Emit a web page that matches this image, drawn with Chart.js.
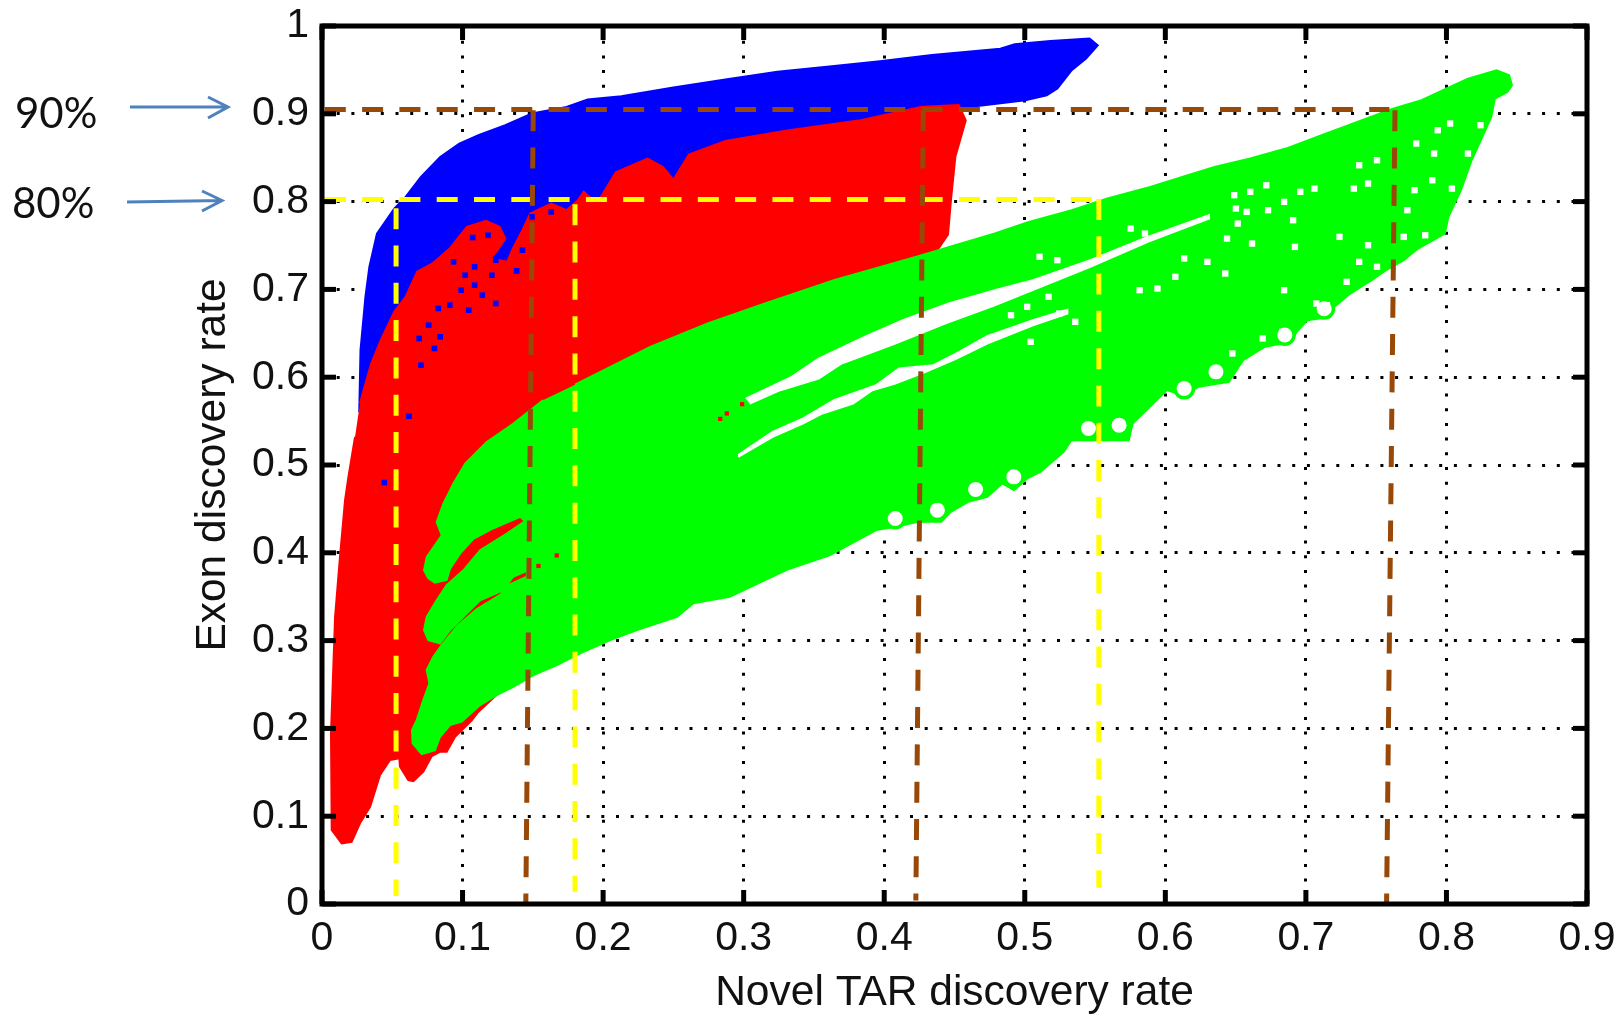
<!DOCTYPE html>
<html>
<head>
<meta charset="utf-8">
<title>Exon vs novel TAR discovery rate</title>
<script src="https://cdn.jsdelivr.net/npm/chart.js@4"></script>
<style>
    html, body { margin: 0; padding: 0; background: #fff; }
    #wrap { position: relative; width: 1624px; height: 1017px; overflow: hidden; }
    canvas { display: block; }
    .pct { position: absolute; font: 42px Lato, sans-serif; color: #111; line-height: 48px; }
    svg { position: absolute; left: 0; top: 0; }
</style>
</head>
<body>
<div id="wrap">
    <canvas id="chart" width="1624" height="1017"></canvas>
    <div class="pct" style="left:15px; top:88px;">90%</div>
    <div class="pct" style="left:12px; top:178px;">80%</div>
    <svg width="320" height="240" fill="none" stroke="#4f81bd" stroke-width="3">
        <path d="M130 107H227M208 97L228 107L208 118"/>
        <path d="M127 202L222 200.500M202 191L222 200.500L202 211"/>
    </svg>
</div>
<script>
const xTicks = [0, 0.1, 0.2, 0.3, 0.4, 0.5, 0.6, 0.7, 0.8, 0.9];
const yTicks = [0, 0.1, 0.2, 0.3, 0.4, 0.5, 0.6, 0.7, 0.8, 0.9, 1];

// outlines, [novel TAR rate, exon rate]
const blueOutline = [
    [.0265,.56],[.0274,.631],[.0309,.6915],[.0337,.7257],[.0391,.7636],[.0514,.7921],[.0595,.8054],
    [.0704,.8282],[.0841,.8509],[.0977,.8661],[.1113,.8756],[.1304,.887],[.1494,.9003],[.174,.9079],
    [.189,.9162],[.213,.92],[.25,.93],[.287,.939],[.324,.948],[.361,.954],[.397,.96],[.434,.967],
    [.4826,.9742],[.4928,.9792],[.5182,.983],[.5461,.9856],[.5519,.978],[.5436,.9629],[.5334,.9496],
    [.5232,.9287],[.5156,.9211],[.5004,.9154],[.456,.907],[.4,.85],[.2,.7],[.05,.55]
];
const redOutline = [
    [.027,.57],[.0296,.5853],[.035,.6156],[.0418,.6422],[.0514,.6745],[.0595,.6915],[.0677,.72],
    [.0786,.7295],[.0909,.7466],[.1031,.7712],[.1167,.7781],[.1263,.7712],[.1304,.758],[.1249,.7447],
    [.1195,.7352],[.1317,.7314],[.1358,.7466],[.1426,.7674],[.1481,.7864],[.1631,.7978],[.174,.7902],
    [.1821,.8016],[.1862,.8111],[.193,.8016],[.198,.804],[.209,.8335],[.2316,.849],[.2426,.8394],
    [.25,.825],[.261,.8536],[.287,.869],[.331,.881],[.383,.8926],[.427,.908],[.453,.91],[.458,.8926],
    [.4506,.851],[.4476,.804],[.4454,.7627],[.438,.745],[.43,.735],[.3,.5],[.1113,.219],[.1067,.2095],
    [.0947,.1905],[.0887,.1734],[.0838,.1734],[.0781,.1685],[.0721,.1507],[.065,.14],[.0614,.1412],
    [.0555,.1564],[.055,.1659],[.0484,.164],[.0413,.1469],[.0342,.1108],[.027,.0919],[.0211,.0709],
    [.014,.0691],[.0069,.0843],[.0064,.1943],[.0093,.3271],[.0128,.3954],[.0164,.46],[.0188,.4865],[.0235,.532]
];
const greenOutline = [
    [.1575,.574],[.136,.547],[.117,.526],[.102,.502],[.0935,.479],[.0864,.456],[.0816,.435],[.0852,.42],
    [.0745,.395],[.0726,.38],[.0757,.371],[.0804,.366],[.0887,.369],[.0911,.382],[.0982,.399],[.1077,.416],
    [.122,.428],[.141,.441],[.1445,.436],[.1315,.422],[.1125,.403],[.1006,.38],[.0887,.363],[.0816,.346],
    [.0745,.327],[.0726,.312],[.0757,.3006],[.084,.297],[.0911,.312],[.1006,.327],[.1125,.346],[.129,.3575],
    [.136,.3727],[.1457,.3795],[.1457,.3727],[.1338,.364],[.1267,.352],[.11,.3355],[.0959,.316],[.0852,.295],
    [.0792,.2816],[.0745,.2665],[.0764,.2513],[.0721,.2323],[.0674,.2095],[.064,.198],[.0645,.183],[.071,.1708],
    [.0804,.1753],[.084,.1905],[.0911,.2038],[.0994,.2076],[.1125,.2266],[.1243,.238],[.136,.2474],[.1504,.2607],
    [.167,.272],[.1836,.2854],[.205,.3006],[.224,.312],[.2525,.327],[.264,.3424],[.29,.35],[.331,.381],[.361,.397],
    [.3942,.4259],[.4078,.4297],[.4242,.4354],[.4405,.4354],[.4473,.4467],[.4596,.4581],[.4732,.4638],[.484,.479],
    [.4923,.4714],[.5018,.4847],[.5113,.4923],[.5277,.515],[.5331,.5283],[.574,.5283],[.5767,.5473],[.6012,.5853],
    [.6121,.5796],[.6236,.5891],[.6452,.5947],[.6553,.6194],[.6706,.6346],[.6896,.6403],[.6934,.6517],[.701,.6649],
    [.7175,.6687],[.7201,.6801],[.7315,.6953],[.7468,.7105],[.757,.7219],[.7696,.7332],[.7798,.7465],[.7988,.7636],
    [.8014,.7826],[.8103,.813],[.8179,.8471],[.8255,.8737],[.8319,.8964],[.8344,.9173],[.8433,.9249],[.8466,.9325],
    [.8446,.9439],[.8357,.9496],[.8153,.9401],[.7976,.9268],[.7823,.9154],[.762,.9059],[.7366,.8908],[.7112,.8756],
    [.6858,.8604],[.6604,.849],[.635,.8395],[.616,.83],[.5893,.8167],[.5588,.8035],[.5334,.7902],[.5029,.7769],
    [.4787,.7636],[.4242,.7378],[.3642,.7105],[.3152,.6839],[.2744,.6612],[.2335,.6346],[.18,.5915]
];
const upperSlit = [
    [.3015,.5757],[.3342,.6004],[.3533,.6213],[.386,.646],[.4132,.665],[.4459,.6839],[.4786,.699],[.5058,.7105],
    [.5466,.7332],[.5875,.7598],[.6311,.7845],[.6311,.7807],[.5875,.7541],[.5466,.7256],[.5113,.7029],[.4786,.682],
    [.4432,.6611],[.4078,.6384],[.3697,.6156],[.3533,.5985],[.326,.5852],[.3043,.57]
];
const lowerSlit = [
    [.2961,.5112],[.3206,.5378],[.3424,.553],[.3642,.5738],[.3942,.5909],[.4105,.6099],[.435,.6137],[.4514,.627],
    [.4732,.6467],[.5058,.665],[.5303,.6771],[.5303,.6725],[.5058,.6592],[.4732,.6384],[.4514,.6213],[.4295,.6061],
    [.4078,.5928],[.3915,.5852],[.3778,.57],[.356,.5587],[.3424,.5473],[.3206,.5321],[.3043,.5169],[.2961,.5093]
];

// small marks left uncovered inside the clouds
const whiteSpecks = [
    [.7379,.8414],[.7506,.8471],[.7341,.8148],[.7442,.8205],[.696,.8111],[.7061,.8148],[.6845,.7997],[.6718,.8186],
    [.6604,.8111],[.649,.8073],[.6502,.7921],[.6579,.7883],[.6731,.7902],[.6909,.7788],[.6515,.775],[.6617,.7522],
    [.6439,.7579],[.6922,.7484],[.6071,.7143],[.6134,.7352],[.5855,.7636],[.5753,.7693],[.5105,.7371],[.5232,.7333],
    [.5169,.6915],[.5017,.6801],[.4902,.6706],[.5042,.6403],[.5359,.6631],[.5245,.6725],[.5817,.6991],[.5944,.701],
    [.6299,.7314],[.6426,.7181],[.6845,.6991],[.7785,.8661],[.7912,.8547],[.8153,.8547],[.8026,.8889],[.7938,.8813],
    [.8242,.887],[.7722,.7902],[.7849,.7617],[.7773,.813],[.8039,.8148],[.7899,.8243],[.7506,.7257],[.7379,.7314],
    [.729,.7086],[.7074,.6839],[.715,.682],[.6833,.6517],[.6693,.6441],[.6477,.627],[.635,.6061],[.6121,.5853],
    [.7239,.7598],[.7442,.7503],[.7696,.7598]
];
const whiteRings = [
    [.4922,.4865],[.465,.4721],[.4378,.4486],[.4078,.4391],[.5453,.5416],[.5671,.5454],[.6134,.5872],[.636,.6061],
    [.685,.648],[.713,.678]
];
const blueSpecks = [
    [.1018,.7162],[.1086,.7257],[.1208,.7162],[.1086,.7048],[.099,.6991],[.0827,.6783],[.0909,.6821],[.0759,.6593],
    [.0841,.646],[.0691,.6441],[.08,.6327],[.0704,.6137],[.1236,.684],[.1385,.7211],[.1426,.7447],[.1072,.7591],
    [.1181,.7618],[.0936,.7314],[.1631,.7883],[.1494,.7826],[.1236,.7333],[.114,.6934],[.1044,.6764],[.0443,.48],[.0619,.5556]
];
const redSpecks = [[.288,.5587],[.2989,.5693],[.167,.397],[.154,.385],[.2833,.5525]];

// threshold guides
const yellowRuns = [
    [[0.002,.8023],[.5527,.8023]],
    [[.0527,.7925],[.0527,.009]],
    [[.18,.797],[.18,.014]],
    [[.5527,.803],[.5527,.0186]]
];
const brownRuns = [
    [[0.002,.905],[.7594,.905]],
    [[.1503,.904],[.145,0]],
    [[.4278,.904],[.4225,.004]],
    [[.7634,.904],[.7574,0]]
];

const toPoints = rows => rows.map(r => ({ x: r[0], y: r[1] }));

function shape(rows, color) {
    return {
        data: toPoints(rows), borderColor: color, backgroundColor: color, borderWidth: 2,
        fill: 'shape', pointRadius: 0, tension: 0
    };
}

function specks(rows, color, radius, style) {
    return {
        data: toPoints(rows), showLine: false, pointStyle: style || 'rect', pointRadius: radius,
        pointBackgroundColor: color, pointBorderWidth: 0
    };
}

function guide(rows, color) {
    return {
        data: toPoints(rows), borderColor: color, borderWidth: 5, borderDash: [21, 16.300],
        borderCapStyle: 'butt', fill: false, pointRadius: 0, clip: false
    };
}

// bottom layer first, flipped below because Chart.js paints the first dataset last
const layers = [
    shape(blueOutline, '#0000ff'),
    shape(redOutline, '#ff0000'),
    specks(blueSpecks, '#0000ff', 4),
    specks(whiteRings, '#00ff00', 11, 'circle'),
    shape(greenOutline, '#00ff00'),
    specks(redSpecks, '#ff0000', 3),
    shape(upperSlit, '#ffffff'),
    shape(lowerSlit, '#ffffff'),
    specks(whiteSpecks, '#ffffff', 4.500),
    specks(whiteRings, '#ffffff', 7.500, 'circle'),
    ...yellowRuns.map(r => guide(r, '#ffff00')),
    ...brownRuns.map(r => guide(r, '#984807'))
];

// box and inward ticks on all four sides, like the original figure
const boxPlugin = {
    id: 'box',
    afterDatasetsDraw(chart) {
        const { ctx, chartArea: a, scales } = chart;
        ctx.save();
        ctx.strokeStyle = '#000';
        ctx.fillStyle = '#000';
        ctx.lineWidth = 5;
        ctx.strokeRect(a.left, a.top, a.right - a.left, a.bottom - a.top);
        xTicks.forEach(v => {
            const px = scales.x.getPixelForValue(v);
            ctx.fillRect(px - 2.500, a.bottom - 14, 5, 14);
            ctx.fillRect(px - 2.500, a.top, 5, 14);
        });
        yTicks.forEach(v => {
            const py = scales.y.getPixelForValue(v);
            ctx.fillRect(a.left, py - 2.500, 14, 5);
            ctx.fillRect(a.right - 14, py - 2.500, 14, 5);
        });
        ctx.restore();
    }
};

const tickFont = { family: "'Liberation Sans', sans-serif", size: 41 };
const titleFont = { family: "'Liberation Sans', sans-serif", size: 42.500, lineHeight: 1.1 };
const dotted = { color: '#000', lineWidth: 3, drawTicks: false };
const dottedBorder = { display: false, dash: [3, 11.700] };

new Chart(document.getElementById('chart'), {
    type: 'line',
    data: { datasets: layers.reverse() },
    plugins: [boxPlugin],
    options: {
        responsive: false,
        animation: false,
        devicePixelRatio: 1,
        layout: { padding: { top: 26, right: 37, left: 0, bottom: 0 } },
        plugins: { legend: { display: false }, tooltip: { enabled: false } },
        scales: {
            x: {
                type: 'linear', min: 0, max: 0.9,
                afterBuildTicks: s => { s.ticks = xTicks.map(v => ({ value: v })); },
                afterFit: s => { s.height = 113; s.paddingLeft = 0; s.paddingRight = 0; },
                grid: dotted,
                border: dottedBorder,
                ticks: { font: tickFont, color: '#111', padding: 10, maxRotation: 0, autoSkip: false, callback: v => String(v) },
                title: { display: true, text: 'Novel TAR discovery rate', font: titleFont, color: '#111', padding: { top: 0, bottom: 0 } }
            },
            y: {
                type: 'linear', min: 0, max: 1,
                afterBuildTicks: s => { s.ticks = yTicks.map(v => ({ value: v })); },
                afterFit: s => { s.width = 322; s.paddingTop = 0; s.paddingBottom = 0; },
                grid: dotted,
                border: dottedBorder,
                ticks: { font: tickFont, color: '#111', padding: 13, autoSkip: false, callback: v => String(v) },
                title: { display: true, text: 'Exon discovery rate', font: titleFont, color: '#111', padding: { top: 190, bottom: 0 } }
            }
        }
    }
});
</script>
</body>
</html>
